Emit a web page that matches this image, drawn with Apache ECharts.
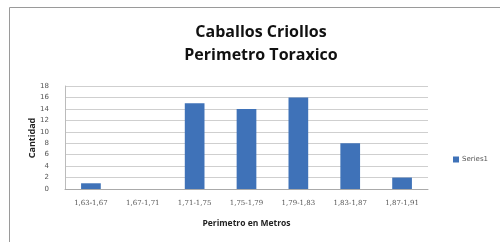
<!DOCTYPE html>
<html><head><meta charset="utf-8">
<script src="https://cdn.jsdelivr.net/npm/echarts@6/dist/echarts.min.js"></script>
<style>html,body{margin:0;padding:0;background:#fff}#c{width:500px;height:242px}</style>
</head><body><div id="c"></div>
<script>
const categories = ['1,63-1,67','1,67-1,71','1,71-1,75','1,75-1,79','1,79-1,83','1,83-1,87','1,87-1,91'];
const series1 = [1, 0, 15, 14, 16, 8, 2];
const yTicks = {min: 0, max: 18, interval: 2};
const chart = echarts.init(document.getElementById('c'), null, {renderer: 'canvas'});
chart.setOption({
  animation: false,
  backgroundColor: '#fff',
  graphic: [
    {type: 'rect', shape: {x: 9.5, y: 7.5, width: 520, height: 260}, style: {fill: 'none', stroke: '#9a9a9a', lineWidth: 1}, silent: true},
    {type: 'text', x: 32, y: 138, rotation: Math.PI / 2, silent: true,
     style: {text: 'Cantidad', fontFamily: 'Open Sans', fontWeight: 'bold', fontSize: 9, fill: '#222', align: 'center', verticalAlign: 'middle'}}
  ],
  title: {
    text: 'Caballos Criollos\nPerimetro Toraxico',
    left: 256, top: 16, textAlign: 'center',
    textStyle: {fontFamily: 'Open Sans', fontWeight: 'bold', fontSize: 16, lineHeight: 23, color: '#111'}
  },
  legend: {
    data: ['Series1'], left: 448, top: 151, itemWidth: 6, itemHeight: 6, itemGap: 2,
    icon: 'rect',
    textStyle: {fontFamily: 'DejaVu Sans', fontSize: 7, color: '#555', padding: [0,0,0,-2]}
  },
  grid: {left: 65, right: 72, top: 86, bottom: 53, containLabel: false},
  xAxis: {
    type: 'category', data: categories,
    name: 'Perimetro en Metros', nameLocation: 'middle', nameGap: 30,
    nameTextStyle: {fontFamily: 'Open Sans', fontWeight: 'bold', fontSize: 8.5, color: '#222'},
    axisLine: {lineStyle: {color: '#aaa'}},
    axisTick: {show: false},
    axisLabel: {fontFamily: 'DejaVu Serif', fontSize: 7, color: '#555', margin: 11, interval: 0}
  },
  yAxis: {
    type: 'value', min: yTicks.min, max: yTicks.max, interval: yTicks.interval,
    axisLine: {show: true, lineStyle: {color: '#bbb'}},
    axisTick: {show: false},
    axisLabel: {fontFamily: 'DejaVu Sans', fontSize: 7, color: '#555', margin: 16},
    splitLine: {lineStyle: {color: '#cfcfcf'}}
  },
  series: [{
    name: 'Series1', type: 'bar', data: series1, barWidth: '38%',
    itemStyle: {color: '#3f72b8'}
  }]
});
</script></body></html>
